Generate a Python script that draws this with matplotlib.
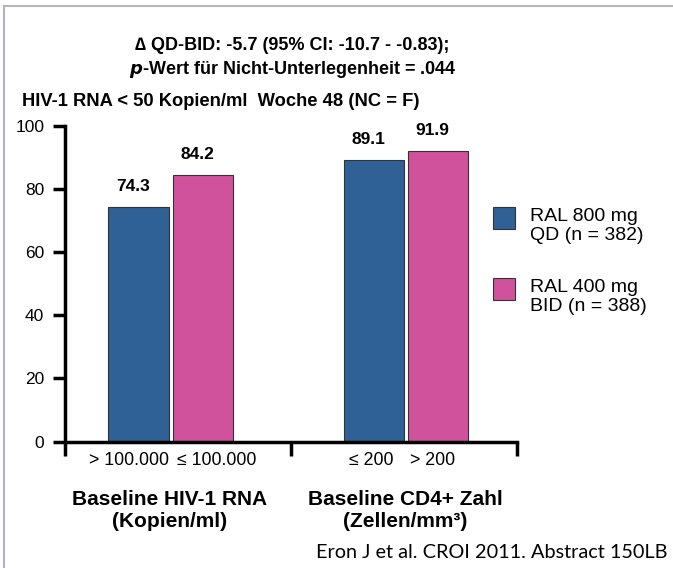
import matplotlib
matplotlib.use("Agg")
import matplotlib.pyplot as plt
from matplotlib.lines import Line2D
from matplotlib.patches import Rectangle

# Data
groups = ["Baseline HIV-1 RNA\n(Kopien/ml)", "Baseline CD4+ Zahl\n(Zellen/mm³)"]
sub_labels_qd = ["> 100.000", "≤ 200"]
sub_labels_bid = ["≤ 100.000", "> 200"]
qd_values = [74.3, 89.1]
bid_values = [84.2, 91.9]
series_names = ["RAL 800 mg\nQD (n = 382)", "RAL 400 mg\nBID (n = 388)"]
colors = ["#2F6196", "#D0529C"]

FONT = ["Liberation Sans", "DejaVu Sans"]
plt.rcParams["font.family"] = FONT

W, H = 673, 568
fig = plt.figure(figsize=(W / 100, H / 100), dpi=100)
ax = fig.add_axes([65 / W, 1 - 441.5 / H, (517 - 65) / W, (441.5 - 125.5) / H])

centers = [0.468, 1.509]
off = 0.142
width = 0.268
qd_x = [c - off for c in centers]
bid_x = [c + off for c in centers]

ax.bar(qd_x, qd_values, width=width, color=colors[0], edgecolor="#333333", linewidth=0.8)
ax.bar(bid_x, bid_values, width=width, color=colors[1], edgecolor="#333333", linewidth=0.8)

for x, v in zip(qd_x + bid_x, qd_values + bid_values):
    ax.text(x - 0.025, v + 6.5, f"{v}", ha="center", va="center", fontsize=12.5, fontweight="bold")

ax.set_xlim(0, 2)
ax.set_ylim(0, 100)
ax.set_yticks([0, 20, 40, 60, 80, 100])
ax.tick_params(axis="y", direction="out", length=9, width=2.5, labelsize=12.5, pad=6)
ax.set_xticks([0, 1, 2])
ax.set_xticklabels([])
ax.tick_params(axis="x", direction="out", length=10, width=2.5)
for s in ["top", "right"]:
    ax.spines[s].set_visible(False)
for s in ["left", "bottom"]:
    ax.spines[s].set_linewidth(2.5)

# category labels under bars (nudged apart in pixels, as on the slide)
nudges = [-10, 14, -3, -6]
sub_x = [qd_x[0], bid_x[0], qd_x[1], bid_x[1]]
sub_lab = [sub_labels_qd[0], sub_labels_bid[0], sub_labels_qd[1], sub_labels_bid[1]]
for x, n, lab in zip(sub_x, nudges, sub_lab):
    ax.text(x + n / 226, -6, lab, ha="center", va="center", fontsize=12.8)

for c, g in zip(centers, groups):
    ax.text(c - 0.005, -15.5, g, ha="center", va="top", fontsize=15, fontweight="bold",
            linespacing=1.15)

# titles
fig.text(292 / W, 1 - 45 / H, "∆ QD-BID: -5.7 (95% CI: -10.7 - -0.83);",
         ha="center", va="center", fontsize=13, fontweight="bold")
fig.text(293 / W, 1 - 69 / H, "$\\bfit{p}$-Wert für Nicht-Unterlegenheit = .044",
         ha="center", va="center", fontsize=13, fontweight="bold")
fig.text(22 / W, 1 - 101 / H, "HIV-1 RNA < 50 Kopien/ml  Woche 48 (NC = F)",
         ha="left", va="center", fontsize=13.2, fontweight="bold")

# legend (drawn by hand to match slide spacing)
legend_y = [207, 278]
for y0, col, name in zip(legend_y, colors, series_names):
    fig.add_artist(Rectangle((493 / W, 1 - (y0 + 21.5) / H), 21.5 / W, 21.5 / H,
                             facecolor=col, edgecolor="#333333", linewidth=0.8,
                             transform=fig.transFigure))
    fig.text(530 / W, 1 - (y0 + 19) / H, name, ha="left", va="center", fontsize=14,
             linespacing=1.1)

fig.text(668 / W, 1 - 552 / H, "Eron J et al. CROI 2011. Abstract 150LB",
         ha="right", va="center", fontsize=14.3, family=["Lato", "DejaVu Sans"])

# slide border (top and left)
fig.add_artist(Line2D([3.5 / W, 3.5 / W], [0, 1 - 6 / H], color="#B4B4BA", linewidth=1.5,
                      transform=fig.transFigure))
fig.add_artist(Line2D([3.5 / W, 1], [1 - 6 / H, 1 - 6 / H], color="#B4B4BA", linewidth=1.5,
                      transform=fig.transFigure))

fig.savefig("out.png", dpi=100)
